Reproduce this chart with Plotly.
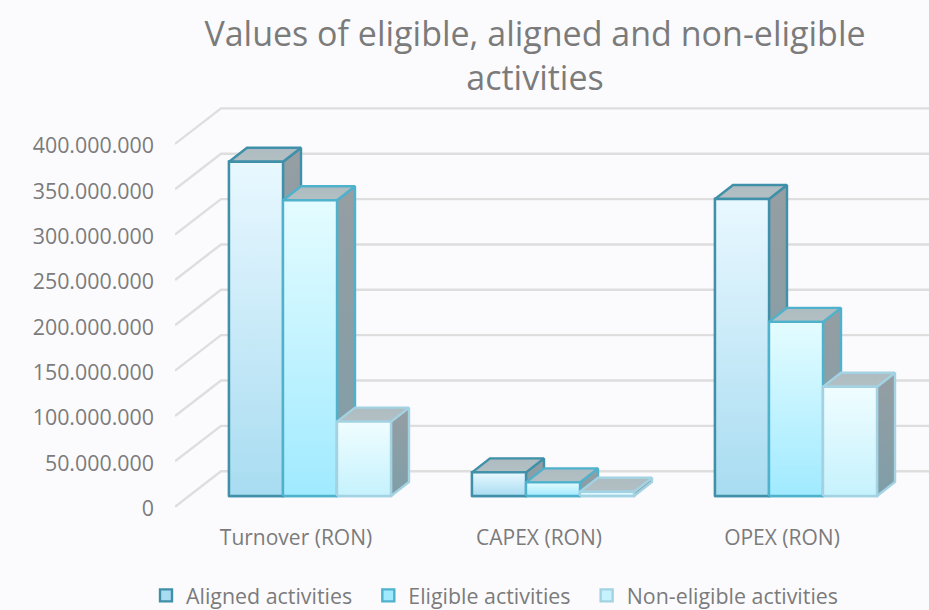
import plotly.graph_objects as go

categories = ["Turnover (RON)", "CAPEX (RON)", "OPEX (RON)"]
aligned = [368600000, 26000000, 327500000]
eligible = [326000000, 15000000, 192000000]
non_eligible = [82000000, 4700000, 120500000]
tick_values = [0, 50000000, 100000000, 150000000, 200000000, 250000000, 300000000, 350000000, 400000000]

W, H = 929, 610
L, R, T, B = 175, 929, 100, 520
CAT_PX = 243.0
CENTER0 = 310.0
PPV = 45.35 / 50e6
BAR_W = 54 / CAT_PX
DX, DY = 18 / CAT_PX, 14 / PPV
FRONT0, BAR0 = 508.5, 496.0
GRID_SHIFT = 1.8 / PPV
WDX, WDY = 46 / CAT_PX, 35.5 / PPV
xlo, xhi = (L - CENTER0) / CAT_PX, (R - CENTER0) / CAT_PX
TXT = "#7b7b7b"
FONT = "Open Sans"
GRID = "#dedede"
NB = "\u00a0\u00a0"

series = [
    ("Aligned activities", aligned, "#3f90a8", ["#e9f8ff", "#a8dcf1"], -1),
    ("Eligible activities", eligible, "#4fb2cc", ["#e4fcff", "#a0eaff"], 0),
    ("Non-eligible activities", non_eligible, "#a3d2e2", ["#f0fdff", "#c5f2fd"], 1),
]

fig = go.Figure()

# back wall gridlines
gx, gy = [], []
for v in tick_values:
    gx += [xlo, xlo + WDX, xhi, None]
    gy += [v + GRID_SHIFT, v + GRID_SHIFT + WDY, v + GRID_SHIFT + WDY, None]
fig.add_trace(go.Scatter(x=gx, y=gy, mode="lines", line=dict(color=GRID, width=2.4),
                         showlegend=False, hoverinfo="skip", xaxis="x", yaxis="y"))

# real bars (legend + base)
for name, vals, edge, grad, off in series:
    fig.add_trace(go.Bar(x=list(range(3)), y=vals, name=name + NB, width=BAR_W,
                         offset=(off - 0.5) * BAR_W,
                         marker=dict(color=grad[1], line=dict(color=edge, width=2.4)),
                         xaxis="x", yaxis="y2"))

# 3D faces
def face(xs, ys, colors, edge, kind="vertical"):
    fig.add_trace(go.Scatter(
        x=xs, y=ys, mode="lines", fill="toself",
        fillgradient=dict(type=kind, colorscale=[[0, colors[0]], [1, colors[1]]]),
        line=dict(color=edge, width=2.4), showlegend=False, hoverinfo="skip",
        xaxis="x", yaxis="y2"))

for name, vals, edge, grad, off in series:
    for i, v in enumerate(vals):
        x0 = i + (off - 0.5) * BAR_W
        x1 = x0 + BAR_W
        face([x1, x1 + DX, x1 + DX, x1, x1], [0, DY, v + DY, v, 0], ["#7f9ea8", "#959ea3"], edge)
        face([x0, x1, x1 + DX, x0 + DX, x0], [v, v, v + DY, v + DY, v], ["#b2bfc3", "#aebbc0"], edge)
        face([x0, x1, x1, x0, x0], [0, 0, v, v, 0], [grad[1], grad[0]], edge)

fig.update_layout(
    width=W, height=H, autosize=False,
    margin=dict(l=L, r=W - R, t=T, b=H - B, autoexpand=False),
    paper_bgcolor="#fbfbfe", plot_bgcolor="#fbfbfe",
    separators=",.",
    font=dict(family=FONT, color=TXT, size=21),
    title=dict(text="Values of eligible, aligned and non-eligible<br>activities",
               x=535 / W, xanchor="center", y=1 - 45.5 / H, yanchor="top",
               font=dict(size=34, color=TXT, family=FONT)),
    barmode="overlay",
    xaxis=dict(range=[xlo, xhi], tickmode="array",
               tickvals=[i - 14 / CAT_PX for i in range(3)], ticktext=categories,
               showgrid=False, zeroline=False, showline=False, ticks="",
               ticklabelstandoff=3, tickfont=dict(size=21, color=TXT, family=FONT)),
    yaxis=dict(range=[-(B - FRONT0) / PPV, (FRONT0 - T) / PPV], tickmode="array",
               tickvals=tick_values, tickformat=",d",
               showgrid=False, zeroline=False, showline=False, ticks="",
               ticklabelstandoff=20, tickfont=dict(size=21.4, color=TXT, family=FONT)),
    yaxis2=dict(range=[-(B - BAR0) / PPV, (BAR0 - T) / PPV], overlaying="y", side="left",
                visible=False, showgrid=False, zeroline=False),
    legend=dict(orientation="h", x=(146 - L) / (R - L), xanchor="left",
                y=(B - 575) / (B - T), yanchor="top",
                font=dict(size=21.4, color=TXT, family=FONT), bgcolor="rgba(0,0,0,0)",
                traceorder="normal"),
    showlegend=True,
)
fig.write_html("out.html", config={"displayModeBar": False},
               post_script="document.body.style.margin='0';document.body.style.background='#fbfbfe';")
